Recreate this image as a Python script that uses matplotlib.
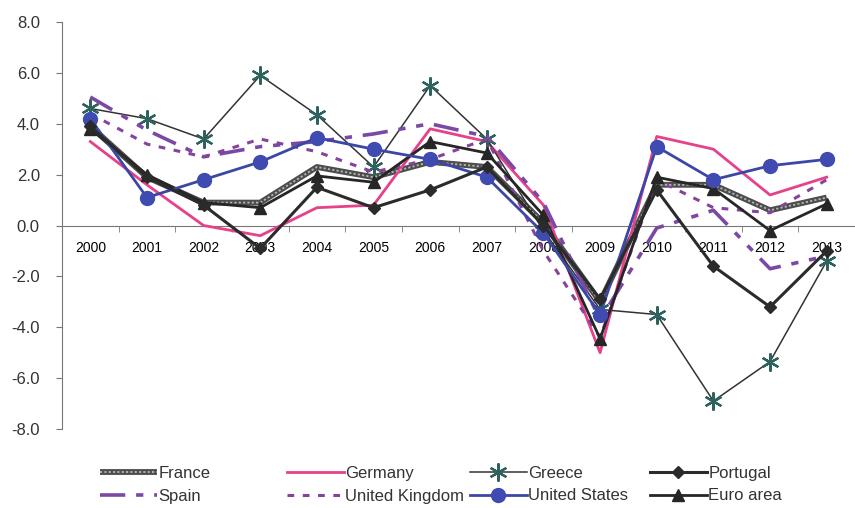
import matplotlib
matplotlib.use("Agg")
import matplotlib.pyplot as plt
import numpy as np

years = ["2000", "2001", "2002", "2003", "2004", "2005", "2006",
         "2007", "2008", "2009", "2010", "2011", "2012", "2013"]

france = [3.9, 1.9, 0.9, 0.9, 2.3, 1.9, 2.5, 2.3, 0.1, -3.0, 1.6, 1.6, 0.6, 1.1]
germany = [3.3, 1.6, 0.0, -0.4, 0.7, 0.8, 3.8, 3.3, 0.8, -5.0, 3.5, 3.0, 1.2, 1.9]
greece = [4.6, 4.2, 3.4, 5.9, 4.35, 2.3, 5.5, 3.4, -0.2, -3.3, -3.5, -6.9, -5.35, -1.4]
portugal = [3.9, 1.9, 0.8, -0.9, 1.5, 0.7, 1.4, 2.3, 0.0, -2.9, 1.4, -1.6, -3.2, -1.0]
spain = [5.05, 3.75, 2.7, 3.1, 3.3, 3.6, 4.0, 3.5, 0.9, -3.7, -0.1, 0.6, -1.7, -1.2]
uk = [4.4, 3.2, 2.7, 3.4, 2.9, 2.1, 2.6, 3.4, -1.0, -4.4, 1.8, 0.7, 0.5, 1.8]
us = [4.2, 1.1, 1.8, 2.5, 3.45, 3.0, 2.6, 1.9, -0.3, -3.5, 3.1, 1.8, 2.35, 2.6]
euro = [3.8, 2.0, 0.9, 0.7, 1.95, 1.7, 3.3, 2.85, 0.4, -4.45, 1.9, 1.45, -0.2, 0.85]

yticks = [-8, -6, -4, -2, 0, 2, 4, 6, 8]

plt.rcParams['font.family'] = ['Liberation Sans', 'DejaVu Sans']

fig = plt.figure(figsize=(8.55, 5.08), dpi=100)
ax = fig.add_axes([62/855, 79/508, (855-62)/855, 407/508])
x = np.arange(len(years))

PURPLE = '#7b48a6'

# France (textured thick gray)
fr1, = ax.plot(x, france, color='#4d4d4d', lw=4.2, solid_capstyle='butt', zorder=3)
fr2, = ax.plot(x, france, color='#b5b5b5', lw=1.3, ls=(0, (1.2, 1.2)), zorder=3.1)
de, = ax.plot(x, germany, color='#e6418a', lw=2.0, zorder=3)
gr, = ax.plot(x, greece, color='#333333', lw=1.1, marker=(6, 2, 0), markersize=13,
              markeredgecolor='#2d625e', markeredgewidth=1.6, zorder=3)
pt, = ax.plot(x, portugal, color='#2b2b2b', lw=2.2, marker='D', markersize=6,
              markerfacecolor='#2b2b2b', markeredgecolor='#2b2b2b', zorder=3.5)
es, = ax.plot(x, spain, color=PURPLE, lw=2.6, ls=(0, (7, 3, 2, 3, 2, 3)), zorder=3)
uk_l, = ax.plot(x, uk, color='#86439a', lw=2.2, ls=(0, (2.2, 2.8)), zorder=3)
usl, = ax.plot(x, us, color='#3b47a6', lw=2.0, marker='o', markersize=10,
               markerfacecolor='#3f4bb0', markeredgecolor='#3f4bb0', zorder=3.4)
ea, = ax.plot(x, euro, color='#262626', lw=2.0, marker='^', markersize=8,
              markerfacecolor='#262626', markeredgecolor='#262626', zorder=3.3)

ax.set_ylim(-8, 8)
ax.set_xlim(-0.5, (855 - 91) / 57.5)
ax.set_yticks(yticks)
ax.set_yticklabels([f"{v:.1f}" for v in yticks], fontsize=12, color='#333333')
ax.set_xticks(x)
ax.set_xticklabels(years, fontsize=12, color='#333333')
ax.set_xticks(np.arange(len(years)) + 0.5, minor=True)

for s in ['top', 'right']:
    ax.spines[s].set_visible(False)
ax.spines['bottom'].set_position(('data', 0))
ax.spines['bottom'].set_color('#777777')
ax.spines['left'].set_color('#777777')
ax.spines['bottom'].set_zorder(1)
ax.tick_params(axis='x', which='major', length=0, pad=11)
ax.tick_params(axis='x', which='minor', length=4, direction='out', color='#777777')
ax.tick_params(axis='y', length=4, direction='out', color='#777777', pad=12)

leg_kw = dict(frameon=False, fontsize=12, handlelength=3.4, handletextpad=0.1,
              labelspacing=0.45, borderpad=0, borderaxespad=0, numpoints=1,
              labelcolor='#333333')
cols = [
    ([(fr1, fr2), es], ["France", "Spain"], 100),
    ([de, uk_l], ["Germany", "United Kingdom"], 287),
    ([gr, usl], ["Greece", "United States"], 470),
    ([pt, ea], ["Portugal", "Euro area"], 650),
]
for handles, labels, px in cols:
    fig.legend(handles, labels, loc='upper left',
               bbox_to_anchor=(px / 855, 1 - 466 / 508), **leg_kw)

fig.savefig("out.png", dpi=100, facecolor='white')
